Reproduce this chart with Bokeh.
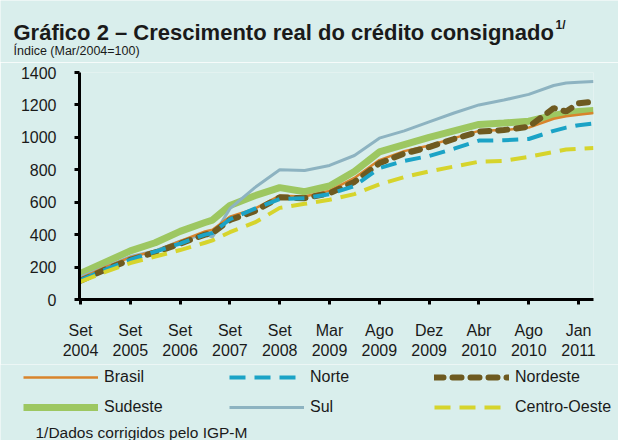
from bokeh.plotting import figure
from bokeh.layouts import column
from bokeh.models import (Range1d, FixedTicker, Label, Legend, LegendItem, ColumnDataSource)
from bokeh.embed import file_html
from bokeh.resources import INLINE

# ---- data -------------------------------------------------------------
tick_labels = ["Set\n2004", "Set\n2005", "Set\n2006", "Set\n2007", "Set\n2008",
               "Mar\n2009", "Ago\n2009", "Dez\n2009", "Abr\n2010", "Ago\n2010", "Jan\n2011"]
# observation positions, in units of the evenly spaced tick slots
x_pos = [0, 0.5, 1, 1.5, 2, 2.5, 2.65, 3, 3.5, 4, 4.5, 5, 5.5, 6, 6.5, 7, 7.5, 8,
         8.5, 9, 9.5, 9.75, 10, 10.3]

brasil = [130, 200, 260, 300, 360, 420, 430, 510, 560, 640, 635, 670, 750, 860, 915,
          950, 995, 1040, 1045, 1060, 1115, 1130, 1140, 1150]
norte = [120, 185, 245, 295, 345, 400, 410, 495, 560, 620, 625, 650, 700, 810, 855,
         885, 930, 980, 982, 990, 1040, 1060, 1075, 1085]
nordeste = [115, 185, 245, 290, 345, 400, 410, 490, 545, 630, 625, 655, 725, 840, 900,
            940, 990, 1035, 1045, 1065, 1180, 1160, 1210, 1220]
sudeste = [160, 230, 300, 350, 420, 475, 490, 580, 640, 690, 665, 700, 790, 910, 955,
           1000, 1040, 1080, 1088, 1100, 1135, 1150, 1160, 1166]
sul = [140, 200, 265, 300, 360, 405, 385, 560, 690, 800, 796, 827, 888, 995, 1040,
       1095, 1150, 1200, 1230, 1265, 1320, 1335, 1340, 1345]
centro_oeste = [110, 170, 225, 265, 305, 350, 365, 415, 475, 565, 590, 615, 650, 710,
                755, 790, 820, 850, 855, 880, 910, 925, 930, 935]

series_names = ["Brasil", "Norte", "Nordeste", "Sudeste", "Sul", "Centro-Oeste"]
y_ticks = [0, 200, 400, 600, 800, 1000, 1200, 1400]

# ---- styles -----------------------------------------------------------
BG = "#d9eeec"
FONT = "Liberation Sans"
TXT = "#1a1a1a"
W = 618
styles = {
    "Sudeste": dict(line_color="#9dc761", line_width=7),
    "Sul": dict(line_color="#8db3c1", line_width=3),
    "Brasil": dict(line_color="#d8842c", line_width=2.5),
    "Nordeste": dict(line_color="#6e5a20", line_width=6, line_dash="9 9", line_cap="round"),
    "Norte": dict(line_color="#1ba3c6", line_width=4, line_dash="16 9"),
    "Centro-Oeste": dict(line_color="#d6d42c", line_width=4, line_dash="16 9"),
}
draw_order = ["Sudeste", "Sul", "Brasil", "Nordeste", "Norte", "Centro-Oeste"]


def blank_fig(h):
    f = figure(width=W, height=h, output_backend="svg", toolbar_location=None,
               x_range=Range1d(0, W), y_range=Range1d(0, h),
               x_axis_type=None, y_axis_type=None,
               min_border_left=0, min_border_right=0, min_border_top=0,
               min_border_bottom=0, frame_align=False)
    f.background_fill_color = BG
    f.border_fill_color = BG
    f.outline_line_color = None
    f.grid.visible = False
    return f


src = ColumnDataSource(dict(x=x_pos, Brasil=brasil, Norte=norte, Nordeste=nordeste,
                            Sudeste=sudeste, Sul=sul, **{"Centro-Oeste": centro_oeste}))

# ---- title block ------------------------------------------------------
top = blank_fig(62)
top.add_layout(Label(x=13, y=30, x_units="screen", y_units="screen",
                     text="Gráfico 2 – Crescimento real do crédito consignado",
                     text_font=FONT, text_font_style="bold", text_font_size="22px",
                     text_color=TXT, text_baseline="alphabetic"))
top.add_layout(Label(x=555, y=38, x_units="screen", y_units="screen",
                     text="1/", text_font=FONT, text_font_style="bold",
                     text_font_size="12px", text_color=TXT,
                     text_baseline="alphabetic"))
top.add_layout(Label(x=13, y=12, x_units="screen", y_units="screen",
                     text="Índice (Mar/2004=100)", text_font=FONT,
                     text_font_size="12.5px", text_color=TXT,
                     text_baseline="alphabetic"))

# ---- main chart -------------------------------------------------------
p = figure(width=W, height=302, output_backend="svg", toolbar_location=None,
           x_range=Range1d(-0.02, 10.3), y_range=Range1d(0, 1400),
           min_border_left=79, min_border_right=25, min_border_top=10,
           min_border_bottom=65, frame_align=False)
p.background_fill_color = BG
p.border_fill_color = BG
p.outline_line_color = None
p.xgrid.visible = False
p.ygrid.visible = False

for ax in (p.xaxis[0], p.yaxis[0]):
    ax.axis_line_width = 3
    ax.axis_line_color = "black"
    ax.major_tick_line_width = 3
    ax.major_tick_line_color = "black"
    ax.major_tick_in = 0
    ax.major_tick_out = 5
    ax.minor_tick_line_color = None
    ax.major_label_text_font = FONT
    ax.major_label_text_font_size = "16px"
    ax.major_label_text_color = TXT

p.yaxis[0].ticker = FixedTicker(ticks=y_ticks)
p.yaxis[0].major_label_standoff = 18
p.xaxis[0].ticker = FixedTicker(ticks=list(range(len(tick_labels))))
p.xaxis[0].major_label_overrides = {i: t for i, t in enumerate(tick_labels)}
p.xaxis[0].major_label_standoff = 17

for name in draw_order:
    p.line("x", name, source=src, **styles[name])

# ---- legend + footnote block -----------------------------------------
# legend keys reuse the series' styles; their lines fall outside this strip's range
bot = blank_fig(76)
leg_r = {name: bot.line("x", name, source=src, **styles[name]) for name in series_names}


def make_legend(names, x):
    lg = Legend(items=[LegendItem(label=n, renderers=[leg_r[n]]) for n in names],
                location=(x, 24), orientation="vertical",
                glyph_width=75, glyph_height=16, label_height=16, spacing=12,
                label_standoff=6, padding=0, margin=0,
                label_text_font=FONT, label_text_font_size="16px",
                label_text_color=TXT,
                border_line_color=None, background_fill_alpha=0)
    bot.add_layout(lg)


make_legend(["Brasil", "Sudeste"], 23)
make_legend(["Norte", "Sul"], 229)
make_legend(["Nordeste", "Centro-Oeste"], 434)

bot.add_layout(Label(x=35, y=8, x_units="screen", y_units="screen",
                     text="1/Dados corrigidos pelo IGP-M", text_font=FONT,
                     text_font_size="15.5px", text_color=TXT,
                     text_baseline="middle"))

layout = column(top, p, bot, spacing=0)
open("out.html", "w").write(file_html(layout, INLINE))
